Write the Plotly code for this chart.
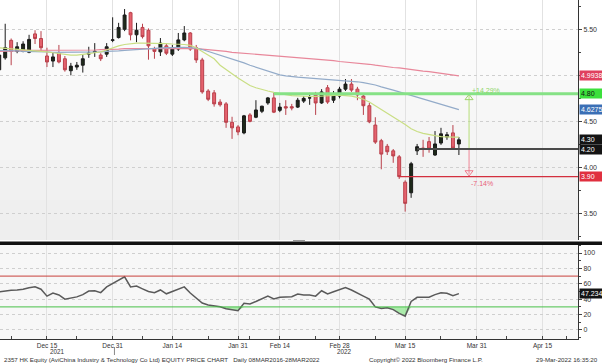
import plotly.graph_objects as go
import numpy as np

# ---------------- data (trading-day index, first candle = 03-Dec-2021 -> index 2) ----------------
first_day = 2
opens = [5.06, 5.19, 5.38, 5.26, 5.26, 5.25, 5.45, 5.40, 5.21,
         5.155, 5.24, 5.18, 5.05, 5.09, 5.11, 5.23, 5.25, 5.22, 5.23, 5.38,
         5.41, 5.50, 5.68, 5.44, 5.52, 5.49, 5.29, 5.255, 5.32, 5.23, 5.285, 5.385, 5.46, 5.30,
         5.167, 4.83, 4.81, 4.71, 4.69, 4.49, 4.44, 4.375, 4.57, 4.545, 4.61, 4.70, 4.755, 4.62, 4.66, 4.66, 4.655,
         4.72, 4.755, 4.785, 4.70, 4.865, 4.73, 4.775, 4.85, 4.905, 4.85, 4.775, 4.67, 4.46, 4.29, 4.23, 4.18, 4.115,
         3.84, 3.725, 4.18, 4.21, 4.28, 4.135, 4.265, 4.33, 4.375, 4.255]
highs = [5.25, 5.56, 5.40, 5.36, 5.37, 5.44, 5.49, 5.48, 5.30,
         5.25, 5.33, 5.21, 5.135, 5.145, 5.22, 5.31, 5.35, 5.24, 5.35, 5.63,
         5.57, 5.72, 5.69, 5.57, 5.56, 5.51, 5.31, 5.405, 5.34, 5.33, 5.46, 5.535, 5.47, 5.33,
         5.19, 4.85, 4.84, 4.74, 4.71, 4.55, 4.46, 4.57, 4.59, 4.73, 4.67, 4.765, 4.81, 4.70, 4.73, 4.69, 4.755,
         4.775, 4.81, 4.82, 4.85, 4.895, 4.83, 4.875, 4.96, 4.96, 4.875, 4.80, 4.70, 4.545, 4.31, 4.255, 4.20, 4.135,
         3.86, 4.06, 4.255, 4.30, 4.33, 4.395, 4.43, 4.385, 4.46, 4.33]
lows = [5.02, 5.17, 5.11, 5.24, 5.25, 5.24, 5.34, 5.26, 5.09,
        5.09, 5.13, 5.04, 5.00, 5.06, 5.03, 5.19, 5.20, 5.155, 5.20, 5.36,
        5.40, 5.48, 5.38, 5.36, 5.40, 5.17, 5.18, 5.21, 5.22, 5.21, 5.265, 5.37, 5.265, 5.135,
        4.80, 4.72, 4.66, 4.66, 4.43, 4.31, 4.35, 4.36, 4.49, 4.535, 4.59, 4.68, 4.59, 4.60, 4.57, 4.62, 4.645,
        4.70, 4.68, 4.57, 4.69, 4.69, 4.70, 4.75, 4.83, 4.82, 4.73, 4.57, 4.48, 4.255, 3.98, 4.135, 4.05, 3.875,
        3.52, 3.67, 4.135, 4.115, 4.16, 4.125, 4.245, 4.30, 4.19, 4.135]
closes = [5.22, 5.30, 5.26, 5.31, 5.34, 5.39, 5.40, 5.30, 5.145,
          5.20, 5.145, 5.06, 5.10, 5.11, 5.18, 5.24, 5.26, 5.18, 5.31, 5.385,
          5.52, 5.655, 5.44, 5.49, 5.42, 5.32, 5.26, 5.35, 5.24, 5.285, 5.385, 5.46, 5.285, 5.167,
          4.82, 4.74, 4.69, 4.68, 4.49, 4.43, 4.385, 4.56, 4.50, 4.624, 4.665, 4.755, 4.60, 4.655, 4.645, 4.645, 4.73,
          4.75, 4.755, 4.70, 4.82, 4.71, 4.80, 4.85, 4.905, 4.84, 4.787, 4.67, 4.495, 4.275, 4.145, 4.17, 4.125, 3.90,
          3.61, 4.04, 4.225, 4.20, 4.20, 4.255, 4.365, 4.355, 4.21, 4.30]

ma_short = [5.30, 5.295, 5.29, 5.285, 5.28, 5.275, 5.27, 5.265, 5.255,
            5.245, 5.235, 5.225, 5.22, 5.22, 5.225, 5.235, 5.245, 5.255, 5.275, 5.30,
            5.32, 5.335, 5.345, 5.35, 5.35, 5.35, 5.345, 5.345, 5.345, 5.34, 5.34, 5.335, 5.325, 5.30,
            5.26, 5.22, 5.18, 5.11, 5.06, 5.01, 4.97, 4.93, 4.89, 4.865, 4.845, 4.83, 4.815, 4.80, 4.79, 4.78, 4.775,
            4.77, 4.77, 4.77, 4.775, 4.78, 4.785, 4.785, 4.78, 4.775, 4.76, 4.74, 4.71, 4.67, 4.63, 4.59, 4.55, 4.51,
            4.465, 4.42, 4.39, 4.37, 4.355, 4.345, 4.335, 4.33, 4.33, 4.33]
ma_mid = [5.27, 5.27, 5.265, 5.265, 5.26, 5.26, 5.26, 5.255, 5.255,
          5.25, 5.25, 5.25, 5.25, 5.25, 5.25, 5.25, 5.255, 5.255, 5.26, 5.26,
          5.265, 5.27, 5.275, 5.28, 5.285, 5.29, 5.29, 5.295, 5.30, 5.30, 5.305, 5.305, 5.30, 5.295,
          5.28, 5.26, 5.24, 5.22, 5.20, 5.18, 5.155, 5.135, 5.11, 5.09, 5.07, 5.05, 5.03, 5.005, 4.995, 4.985, 4.98,
          4.975, 4.97, 4.965, 4.96, 4.955, 4.95, 4.95, 4.945, 4.94, 4.93, 4.92, 4.91, 4.895, 4.875, 4.86, 4.84, 4.82,
          4.80, 4.78, 4.76, 4.74, 4.72, 4.70, 4.685, 4.665, 4.645, 4.6275]
ma_long = [5.26, 5.26, 5.265, 5.265, 5.27, 5.27, 5.27, 5.275, 5.275,
           5.275, 5.275, 5.27, 5.27, 5.27, 5.27, 5.275, 5.275, 5.28, 5.28, 5.285,
           5.285, 5.29, 5.29, 5.29, 5.295, 5.295, 5.295, 5.295, 5.295, 5.297, 5.297, 5.297, 5.295, 5.29,
           5.285, 5.28, 5.27, 5.265, 5.26, 5.25, 5.245, 5.24, 5.235, 5.23, 5.225, 5.22, 5.21, 5.205, 5.20, 5.195, 5.19,
           5.185, 5.18, 5.175, 5.17, 5.165, 5.16, 5.15, 5.145, 5.14, 5.13, 5.125, 5.12, 5.11, 5.10, 5.095, 5.085, 5.08,
           5.07, 5.065, 5.055, 5.045, 5.04, 5.03, 5.02, 5.01, 5.00, 4.9938]
rsi = [49.7, 51, 51.5, 52, 53, 55, 56, 53, 44,
       48, 45.5, 40, 41.5, 43, 46, 50.5, 51, 48.5, 56, 60,
       64, 69, 56, 57, 53.5, 50, 48.4, 52, 47, 49.7, 53, 56, 48, 41,
       35, 32.5, 31.5, 30.3, 27.5, 26.5, 25, 34.7, 33.8, 37, 40, 44, 40.3, 42.5, 42.8, 43.2, 46.8,
       45.5, 45.5, 44, 51, 46.8, 49.7, 52, 55, 52, 48.4, 44, 40, 30, 28, 29, 26.5, 21.5,
       18, 37, 42.5, 42.5, 42.5, 46, 48.4, 47.7, 44.5, 47.234]

tick_days = [10, 21, 31, 42, 49, 59, 70, 82, 93]
tick_labels = ["Dec 15", "Dec 31", "Jan 14", "Jan 31", "Feb 14",
               "Feb 28", "Mar 15", "Mar 31", "Apr 15"]
year_labels = ["2021", "2022"]
year_label_days = [11.8, 59.9]
minor_days = [4, 15, 26, 37, 44, 55, 65, 76, 87, 97]
year_break_day = 21.3

price_ticks = [3.5, 4.0, 4.5, 5.0, 5.5]
price_tick_text = ["3.50", "4.00", "4.50", "", "5.50"]   # 5.00 hidden behind the 4.9938 tag
rsi_ticks = [0, 20, 40, 60, 80, 100]
rsi_low, rsi_high = 30, 70

levels = [4.80, 4.20, 3.90]
level_start = [48, 72, 69]
level_colors = ["#86e286", "#4a4a4a", "#d3303f"]
level_widths = [3, 2, 1.4]
arrow_day = 80.7
arrow_texts = ["+14.29%", "-7.14%"]

footer_left = "2357 HK Equity (AviChina Industry & Technology Co Ltd) EQUITY PRICE CHART   Daily 08MAR2016-28MAR2022"
footer_mid = "Copyright© 2022 Bloomberg Finance L.P."
footer_right = "29-Mar-2022 16:35:20"

# ---------------- layout constants ----------------
W, H = 602, 364
ML, MR, MT, MB = 0, 24, 0, 25
PH = H - MT - MB           # plot area height in px (339)
PW = W - ML - MR           # 578
x_range = [2.13, 98.95]
price_range = [3.212, 5.818]
rsi_range = [-11.7, 110.4]
price_dom = [1 - 240 / PH, 1]
rsi_dom = [0, 1 - 245 / PH]

FONT = "Liberation Sans Narrow, Arial Narrow, Liberation Sans, Arial, sans-serif"

x = list(range(first_day, first_day + len(closes)))
rsi_arr = np.array(rsi)

fig = go.Figure()

# moving averages (drawn first so candles sit on top)
for vals, col in [(ma_long, "#e8879a"), (ma_mid, "#93abc9"), (ma_short, "#c9de83")]:
    fig.add_trace(go.Scatter(x=x, y=vals, mode="lines", line=dict(color=col, width=1.2),
                             xaxis="x2", yaxis="y2", hoverinfo="skip", showlegend=False))

fig.add_trace(go.Candlestick(
    x=x, open=opens, high=highs, low=lows, close=closes,
    xaxis="x2", yaxis="y2", whiskerwidth=0,
    increasing=dict(line=dict(color="#1a1a1a", width=1), fillcolor="#1e2a1a"),
    decreasing=dict(line=dict(color="#b9404b", width=1), fillcolor="#e5626e"),
    showlegend=False, hoverinfo="skip"))

# arrow markers
fig.add_trace(go.Scatter(x=[arrow_day, arrow_day], y=[levels[1], levels[0]], mode="lines",
                         line=dict(color="#b7dd78", width=1), xaxis="x2", yaxis="y2",
                         hoverinfo="skip", showlegend=False))
fig.add_trace(go.Scatter(x=[arrow_day, arrow_day], y=[levels[1], levels[2] + 0.03], mode="lines",
                         line=dict(color="#ef8898", width=1), xaxis="x2", yaxis="y2",
                         hoverinfo="skip", showlegend=False))
fig.add_trace(go.Scatter(x=[arrow_day], y=[levels[0] - 0.045], mode="markers",
                         marker=dict(symbol="triangle-up-open", size=7, color="#9cd46a", line=dict(width=1)),
                         xaxis="x2", yaxis="y2", hoverinfo="skip", showlegend=False))
fig.add_trace(go.Scatter(x=[arrow_day], y=[levels[2] + 0.045], mode="markers",
                         marker=dict(symbol="triangle-down-open", size=7, color="#ef7a8c", line=dict(width=1)),
                         xaxis="x2", yaxis="y2", hoverinfo="skip", showlegend=False))

# RSI fills
fig.add_trace(go.Scatter(x=x, y=[rsi_low] * len(x), mode="lines", line=dict(width=0),
                         hoverinfo="skip", showlegend=False))
fig.add_trace(go.Scatter(x=x, y=np.minimum(rsi_arr, rsi_low), mode="lines", line=dict(width=0),
                         fill="tonexty", fillcolor="rgba(110,225,110,0.55)", hoverinfo="skip", showlegend=False))
fig.add_trace(go.Scatter(x=x, y=[rsi_high] * len(x), mode="lines", line=dict(width=0),
                         hoverinfo="skip", showlegend=False))
fig.add_trace(go.Scatter(x=x, y=np.maximum(rsi_arr, rsi_high), mode="lines", line=dict(width=0),
                         fill="tonexty", fillcolor="rgba(240,120,120,0.55)", hoverinfo="skip", showlegend=False))
fig.add_trace(go.Scatter(x=x, y=rsi, mode="lines", line=dict(color="#5a5a5a", width=1.5),
                         hoverinfo="skip", showlegend=False))

shapes = []
# background gradient of price panel
nb = 12
for k in range(nb):
    g = int(255 - 17 * k / (nb - 1))
    shapes.append(dict(type="rect", xref="paper", yref="paper", x0=0, x1=1,
                       y0=1 - (k + 1) * 240 / PH / nb, y1=1 - k * 240 / PH / nb,
                       fillcolor=f"rgb({g},{g},{g})", line=dict(width=0), layer="below"))
shapes.append(dict(type="rect", xref="paper", yref="paper", x0=0, x1=1, y0=rsi_dom[0], y1=rsi_dom[1],
                   fillcolor="#f7f7f7", line=dict(width=0), layer="below"))
# level lines
for lv, st, col, wd in zip(levels, level_start, level_colors, level_widths):
    shapes.append(dict(type="line", xref="x2", yref="y2", x0=st, x1=x_range[1], y0=lv, y1=lv,
                       line=dict(color=col, width=wd)))
# RSI 30 / 70 lines
shapes.append(dict(type="line", xref="paper", yref="y", x0=0, x1=1, y0=rsi_high, y1=rsi_high,
                   line=dict(color="#c8403c", width=1)))
shapes.append(dict(type="line", xref="paper", yref="y", x0=0, x1=1, y0=rsi_low, y1=rsi_low,
                   line=dict(color="#48c048", width=1)))
# panel separator
shapes.append(dict(type="rect", xref="paper", yref="paper", x0=0, x1=W / PW,
                   y0=1 - 245 / PH, y1=1 - 241.5 / PH, fillcolor="#111111", line=dict(width=0)))
shapes.append(dict(type="line", xref="paper", yref="paper", x0=293 / PW, x1=305 / PW,
                   y0=1 - 240.5 / PH, y1=1 - 240.5 / PH, line=dict(color="#999999", width=1)))
# year break mark
shapes.append(dict(type="line", xref="x", yref="paper", x0=year_break_day, x1=year_break_day,
                   y0=1 - 347 / PH, y1=1 - 355 / PH, line=dict(color="#888888", width=1)))

annotations = []
def side_box(val, yref, bg, fg, text):
    annotations.append(dict(xref="paper", x=1, xanchor="left", xshift=1, yref=yref, y=val,
                            yanchor="middle", text=text, showarrow=False, bgcolor=bg,
                            font=dict(color=fg, size=7, family=FONT), borderpad=1, width=21, align="left"))

side_box(ma_long[-1], "y2", "#e0405e", "white", f"{ma_long[-1]:.4f}")
side_box(levels[0], "y2", "#3ce03c", "#111111", f"{levels[0]:.2f}")
side_box(ma_mid[-1], "y2", "#3b6fb5", "white", f"{ma_mid[-1]:.4f}")
side_box(closes[-1], "y2", "#141414", "white", f"{closes[-1]:.2f}")
side_box(levels[1], "y2", "#141414", "white", f"{levels[1]:.2f}")
side_box(levels[2], "y2", "#e0303f", "white", f"{levels[2]:.2f}")
side_box(rsi[-1], "y", "#141414", "white", f"{rsi[-1]:.3f}")

annotations.append(dict(xref="x2", yref="y2", x=arrow_day, y=levels[0], xanchor="left", yanchor="bottom",
                        xshift=1, yshift=-2, text=arrow_texts[0], showarrow=False,
                        font=dict(color="#8fd66a", size=7, family=FONT)))
annotations.append(dict(xref="x2", yref="y2", x=arrow_day, y=levels[2], xanchor="left", yanchor="top",
                        xshift=0, yshift=-1, text=arrow_texts[1], showarrow=False,
                        font=dict(color="#e8607a", size=7, family=FONT)))

# year labels under the date axis
for d, t in zip(year_label_days, year_labels):
    annotations.append(dict(xref="x", yref="paper", x=d, y=1 - 351.5 / PH, xanchor="center",
                            yanchor="middle", text=t, showarrow=False,
                            font=dict(size=6.3, color="#333333", family=FONT)))

fy = 1 - 359.8 / PH
ffont = dict(size=6.2, color="#333333", family=FONT)
annotations.append(dict(xref="paper", yref="paper", x=2 / PW, y=fy, xanchor="left", yanchor="middle",
                        text=footer_left, showarrow=False, font=ffont))
annotations.append(dict(xref="paper", yref="paper", x=367 / PW, y=fy, xanchor="left", yanchor="middle",
                        text=footer_mid, showarrow=False, font=ffont))
annotations.append(dict(xref="paper", yref="paper", x=600 / PW, y=fy, xanchor="right", yanchor="middle",
                        text=footer_right, showarrow=False, font=ffont))

fig.update_layout(
    width=W, height=H, margin=dict(l=ML, r=MR, t=MT, b=MB),
    paper_bgcolor="white", plot_bgcolor="rgba(0,0,0,0)",
    font=dict(family=FONT, size=7, color="#333333"),
    showlegend=False, shapes=shapes, annotations=annotations, boxgap=0.3,
    xaxis=dict(domain=[0, 1], anchor="y", range=x_range, tickmode="array", tickvals=tick_days,
               ticktext=tick_labels, ticks="inside", ticklen=3, tickcolor="#444",
               showline=True, linecolor="#333", linewidth=1, showgrid=True, gridcolor="#e2e2e2",
               gridwidth=1, zeroline=False, rangeslider=dict(visible=False),
               minor=dict(tickmode="array", tickvals=minor_days, ticks="inside", ticklen=3,
                          tickcolor="#444", showgrid=False),
               tickfont=dict(size=6.5, color="#333")),
    yaxis=dict(domain=rsi_dom, anchor="x", side="right", range=rsi_range, tickmode="array",
               tickvals=rsi_ticks, ticks="outside", ticklen=3, tickcolor="#444", showline=True,
               linecolor="#333", linewidth=1, showgrid=True, gridcolor="#cfcfcf", griddash="dot",
               zeroline=False, tickfont=dict(size=7, color="#333"),
               minor=dict(dtick=10, ticks="outside", ticklen=2, tickcolor="#444", showgrid=False)),
    xaxis2=dict(domain=[0, 1], anchor="y2", matches="x", range=x_range, tickmode="array",
                tickvals=tick_days, showticklabels=False, ticks="", showline=False, showgrid=True,
                gridcolor="#e2e2e2", zeroline=False, rangeslider=dict(visible=False)),
    yaxis2=dict(domain=price_dom, anchor="x2", side="right", range=price_range, tickmode="array",
                tickvals=price_ticks, ticktext=price_tick_text, ticks="outside",
                ticklen=3, tickcolor="#444", showline=True, linecolor="#333", linewidth=1,
                showgrid=True, gridcolor="#cfcfcf", griddash="dot", zeroline=False,
                tickfont=dict(size=7, color="#333"),
                minor=dict(dtick=0.25, tick0=0, ticks="outside", ticklen=2, tickcolor="#444", showgrid=False)),
)

fig.write_html("out.html", config={"displayModeBar": False},
               post_script="document.body.style.margin='0';document.body.style.overflow='hidden';")
